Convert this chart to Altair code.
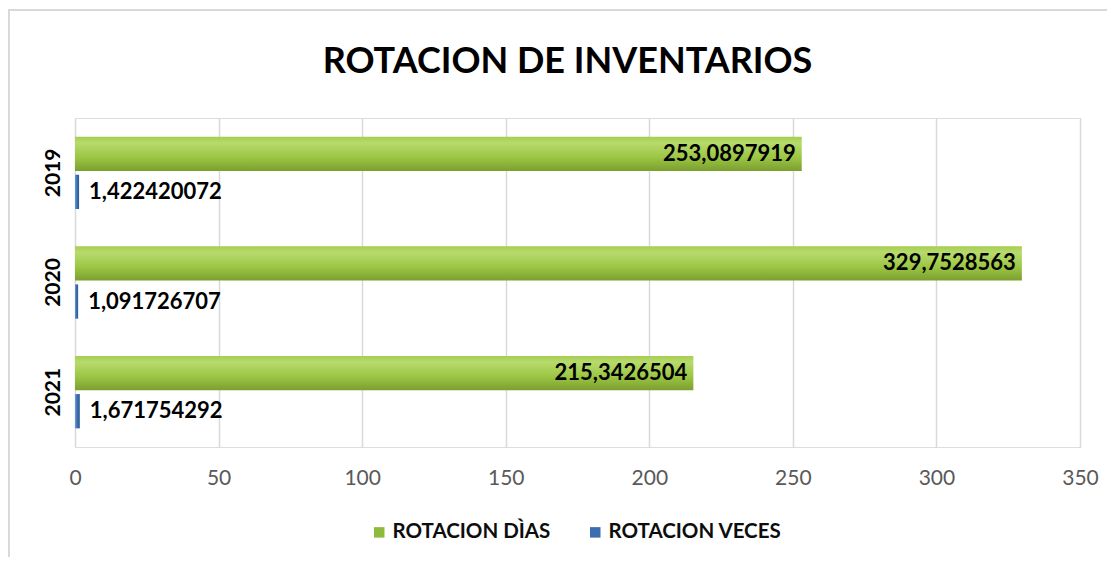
import altair as alt
import pandas as pd

years = ["2019", "2020", "2021"]
series_names = ["ROTACION DÌAS", "ROTACION VECES"]
rotacion_dias = [253.0897919, 329.7528563, 215.3426504]
rotacion_veces = [1.422420072, 1.091726707, 1.671754292]
x_ticks = [0, 50, 100, 150, 200, 250, 300, 350]

rows = []
for i, y in enumerate(years):
    rows.append({"year": y, "series": series_names[0], "value": rotacion_dias[i]})
    rows.append({"year": y, "series": series_names[1], "value": rotacion_veces[i]})
df = pd.DataFrame(rows)

FONT = "Lato"

green_grad = alt.Gradient(
    gradient="linear", x1=0, x2=0, y1=0, y2=1,
    stops=[
        alt.GradientStop(color="#a6cd50", offset=0),
        alt.GradientStop(color="#b7db6c", offset=0.18),
        alt.GradientStop(color="#9cc644", offset=0.6),
        alt.GradientStop(color="#7b9f2f", offset=1),
    ],
)
blue_grad = alt.Gradient(
    gradient="linear", x1=0, x2=1, y1=0, y2=0,
    stops=[
        alt.GradientStop(color="#6a9bd8", offset=0),
        alt.GradientStop(color="#3a6eae", offset=0.5),
        alt.GradientStop(color="#2b5a93", offset=1),
    ],
)

base = alt.Chart(df).transform_calculate(
    label="replace(format(datum.value, '.10r'), '.', ',')"
).encode(
    y=alt.Y(
        "year:N",
        sort=years,
        title=None,
        scale=alt.Scale(paddingInner=0.34, paddingOuter=0.17),
        axis=alt.Axis(
            labelAngle=270, labelAlign="center", labelBaseline="bottom",
            labelPadding=12, labelFont=FONT, labelFontSize=21,
            labelFontWeight="bold", labelColor="#000000",
            domain=False, ticks=False, grid=False,
        ),
    ),
    yOffset=alt.YOffset(
        "series:N", sort=series_names,
        scale=alt.Scale(domain=series_names, paddingInner=0.1),
    ),
    x=alt.X(
        "value:Q",
        title=None,
        scale=alt.Scale(domain=[0, 350], nice=False),
        axis=alt.Axis(
            values=x_ticks, labelFont=FONT, labelFontSize=21,
            labelColor="#595959", labelPadding=20, labelFlush=False,
            domain=False, ticks=False,
            grid=True, gridColor="#d9d9d9", gridWidth=1.5,
        ),
    ),
)

green_bars = base.transform_filter(
    alt.datum.series == series_names[0]
).mark_bar(color=green_grad)

blue_bars = base.transform_filter(
    alt.datum.series == series_names[1]
).mark_bar(color=blue_grad)

legend_layer = base.mark_point(shape="square", filled=True, opacity=0).encode(
    color=alt.Color(
        "series:N",
        sort=series_names,
        scale=alt.Scale(domain=series_names, range=["#8fbb3c", "#3a6eae"]),
        legend=alt.Legend(
            title=None, orient="none", direction="horizontal",
            legendX=294, legendY=404, symbolType="square", symbolSize=110,
            symbolOpacity=1, labelFont=FONT, labelFontSize=20.5,
            labelFontWeight="bold", labelColor="#0d0d0d", columnPadding=34,
            labelOffset=3, labelLimit=400,
        ),
    )
)

green_text = base.transform_filter(
    alt.datum.series == series_names[0]
).mark_text(
    align="right", baseline="middle", dx=-6, font=FONT, fontSize=22,
    fontWeight="bold", color="#000000",
).encode(text="label:N")

blue_text = base.transform_filter(
    alt.datum.series == series_names[1]
).mark_text(
    align="left", baseline="middle", dx=10, font=FONT, fontSize=22,
    fontWeight="bold", color="#000000",
).encode(text="label:N")

frame_v = alt.Chart(alt.Data(values=[{}])).mark_rule(
    color="#d9d9d9", strokeWidth=2
).encode(x=alt.value(-66), y=alt.value(-108), y2=alt.value(460))
frame_h = alt.Chart(alt.Data(values=[{}])).mark_rule(
    color="#d9d9d9", strokeWidth=2
).encode(x=alt.value(-67), x2=alt.value(1060), y=alt.value(-108))

chart = alt.layer(
    frame_v, frame_h, green_bars, blue_bars, legend_layer, green_text, blue_text
).properties(
    width=1005,
    height=329,
    title=alt.Title(
        "ROTACION DE INVENTARIOS", font=FONT, fontSize=36, fontWeight="bold",
        color="#000000", anchor="middle", dx=-10, offset=0,
        baseline="alphabetic", dy=100,
    ),
    autosize=alt.AutoSizeParams(type="none"),
    padding={"left": 67, "top": 110, "right": 27, "bottom": 110},
).configure_view(stroke=None).configure(background="#ffffff")

chart.save("out.html", embed_options={"renderer": "svg", "actions": False})
